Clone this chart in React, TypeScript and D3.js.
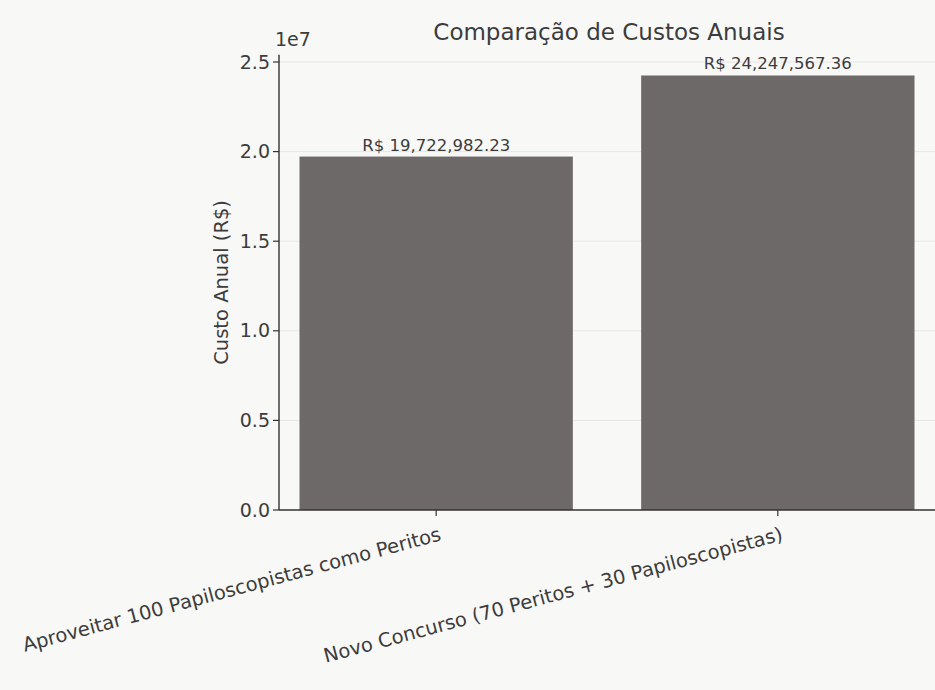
import React from "react";
import * as d3 from "d3";

const categories: string[] = [
  "Aproveitar 100 Papiloscopistas como Peritos",
  "Novo Concurso (70 Peritos + 30 Papiloscopistas)",
];
const costs: number[] = [19722982.23, 24247567.36];
const yTicks: number[] = [0, 5e6, 10e6, 15e6, 20e6, 25e6];
const yTickLabels: string[] = ["0.0", "0.5", "1.0", "1.5", "2.0", "2.5"];
const title = "Comparação de Custos Anuais";
const yLabel = "Custo Anual (R$)";
const offsetLabel = "1e7";

const W = 935;
const H = 690;
const FONT = "DejaVu Sans, sans-serif";
const TEXT = "#3c3c3c";
const BAR = "#6d6969";

export default function App() {
  const left = 279;
  const right = 935;
  const bottom = 510;
  const x = d3.scaleLinear().domain([-0.46, 1.46]).range([left, right]);
  const y = d3.scaleLinear().domain([0, 25e6]).range([bottom, 62]);
  const yTop = y(25.4e6);
  const barW = x(0.8) - x(0);
  const fmt = (v: number) => "R$ " + d3.format(",.2f")(v);

  return (
    <svg
      width={W}
      height={H}
      style={{ position: "absolute", left: 0, top: 0, background: "#f8f8f7" }}
      fontFamily={FONT}
    >
      <rect x={0} y={0} width={W} height={H} fill="#f8f8f7" />
      {/* faint grid */}
      {yTicks.slice(1).map((t, i) => (
        <line key={"g" + i} x1={left} x2={right} y1={y(t)} y2={y(t)} stroke="#e6e6e6" strokeWidth={1} />
      ))}
      {/* bars */}
      {costs.map((v, i) => (
        <g key={"b" + i}>
          <rect x={x(i) - barW / 2} y={y(v)} width={barW} height={bottom - y(v)} fill={BAR} />
          <text x={x(i)} y={y(v) - 6} textAnchor="middle" fontSize={16.5} fill={TEXT}>
            {fmt(v)}
          </text>
        </g>
      ))}
      {/* spines */}
      <line x1={left} x2={left} y1={yTop} y2={bottom} stroke="#333" strokeWidth={1.4} />
      <line x1={left} x2={right} y1={bottom} y2={bottom} stroke="#333" strokeWidth={1.4} />
      {/* y ticks */}
      {yTicks.map((t, i) => (
        <g key={"t" + i}>
          <line x1={left - 6} x2={left} y1={y(t)} y2={y(t)} stroke="#333" strokeWidth={1.2} />
          <text x={left - 9} y={y(t)} dy="0.35em" textAnchor="end" fontSize={19} fill={TEXT}>
            {yTickLabels[i]}
          </text>
        </g>
      ))}
      {/* x ticks */}
      {categories.map((c, i) => (
        <g key={"x" + i}>
          <line x1={x(i)} x2={x(i)} y1={bottom} y2={bottom + 6} stroke="#333" strokeWidth={1.2} />
          <text
            x={x(i) + 6}
            y={bottom + 30}
            textAnchor="end"
            fontSize={19.5}
            fill={TEXT}
            transform={`rotate(-15, ${x(i) + 6}, ${bottom + 30})`}
          >
            {c}
          </text>
        </g>
      ))}
      <text x={left - 4} y={46} fontSize={19} fill={TEXT}>
        {offsetLabel}
      </text>
      <text x={609} y={40} textAnchor="middle" fontSize={23} fill={TEXT}>
        {title}
      </text>
      <text
        transform={`translate(228, ${(yTop + bottom) / 2}) rotate(-90)`}
        textAnchor="middle"
        fontSize={19.5}
        fill={TEXT}
      >
        {yLabel}
      </text>
    </svg>
  );
}
